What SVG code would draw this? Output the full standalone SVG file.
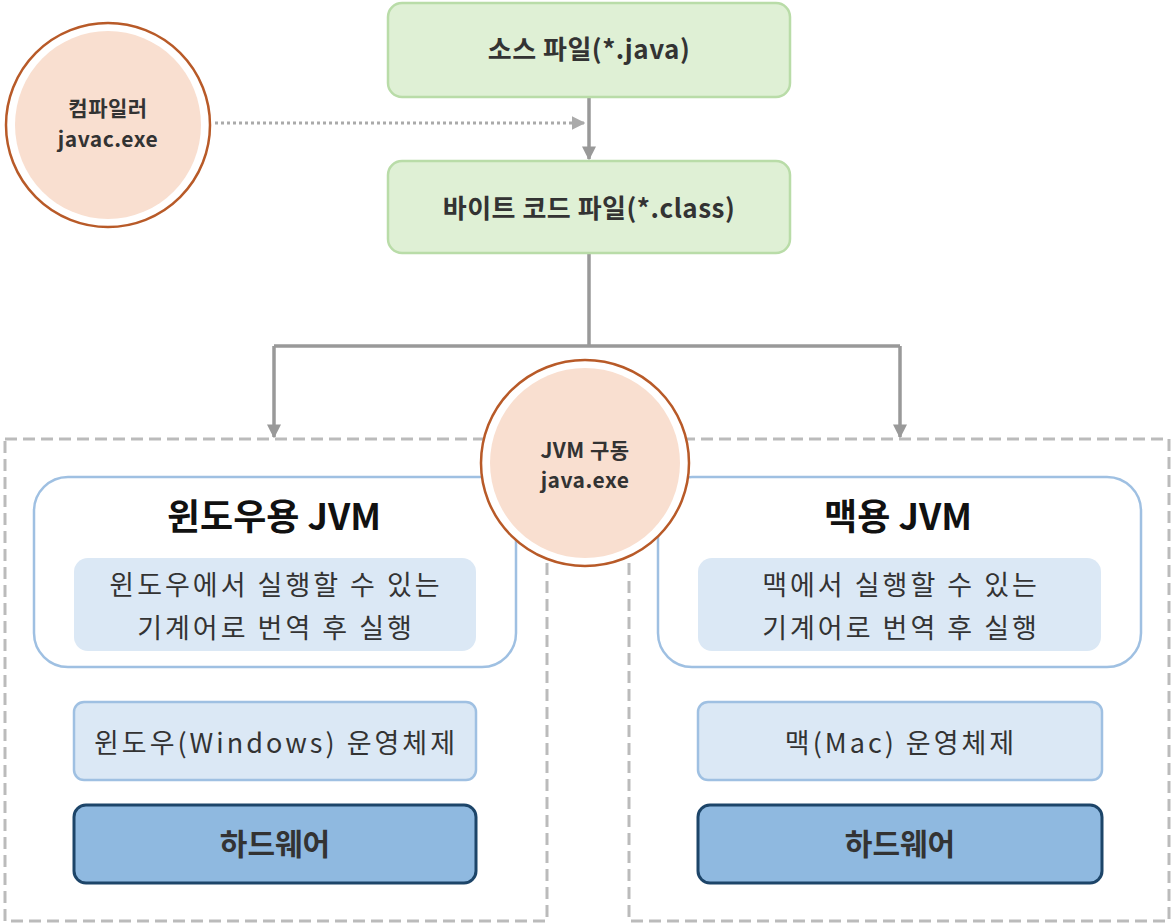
<svg xmlns="http://www.w3.org/2000/svg" width="1172" height="924" viewBox="0 0 1172 924">
<style>
text{font-family:"Noto Sans CJK KR","Noto Sans",sans-serif;text-anchor:middle;dominant-baseline:central;fill:#333}
.b{font-weight:bold}
.file{fill:#dff0d5;stroke:#b9dca8;stroke-width:2.5}
.circ{fill:#fff;stroke:#b85a28;stroke-width:2.5}
.circin{fill:#f9dfd0}
.cont{fill:none;stroke:#bbb;stroke-width:3;stroke-dasharray:12 6}
.jvm{fill:#fff;stroke:#9fc0e2;stroke-width:2.5}
.inner{fill:#dbe8f5}
.os{fill:#dbe8f5;stroke:#9fc0e2;stroke-width:2.5}
.hw{fill:#8fb9e0;stroke:#1d4569;stroke-width:3}
.line{fill:none;stroke:#999;stroke-width:3.5}
.dot{fill:none;stroke:#aaa;stroke-width:3;stroke-dasharray:3 3}
.t1{font-size:26px;letter-spacing:0.5px}
.t2{font-size:21px;letter-spacing:0.5px}
.t3{font-size:36px;fill:#111}
.t4{font-size:27px;letter-spacing:3px}
.t5{font-size:30px}
</style>
<defs>
<marker id="ah" viewBox="0 0 10 10" refX="9" refY="5" markerWidth="4" markerHeight="4" orient="auto" markerUnits="strokeWidth">
<path d="M0,0L10,5L0,10z" fill="#999"/>
</marker>
<marker id="ahd" viewBox="0 0 10 10" refX="9" refY="5" markerWidth="4.5" markerHeight="4.5" orient="auto" markerUnits="strokeWidth">
<path d="M0,0L10,5L0,10z" fill="#aaa"/>
</marker>
</defs>

<g id="containers">
<rect id="win-container" class="cont" x="5" y="439" width="542" height="482"/>
<rect id="mac-container" class="cont" x="629" y="439" width="540" height="482"/>
</g>

<g id="connectors">
<path class="line" d="M589,97V159" marker-end="url(#ah)"/>
<path class="dot" d="M215,123H584" marker-end="url(#ahd)"/>
<path class="line" d="M589,253V346M274,346H900"/>
<path class="line" d="M274,346V437" marker-end="url(#ah)"/>
<path class="line" d="M900,346V437" marker-end="url(#ah)"/>
</g>

<g id="source">
<rect class="file" x="388" y="3" width="402" height="94" rx="14"/>
<text class="t1 b" x="589" y="47">소스 파일(*.java)</text>
</g>

<g id="bytecode">
<rect class="file" x="388" y="161" width="402" height="92" rx="14"/>
<text class="t1 b" x="589" y="206">바이트 코드 파일(*.class)</text>
</g>

<g id="compiler">
<ellipse class="circ" cx="108" cy="125" rx="102" ry="102"/>
<ellipse class="circin" cx="108" cy="125" rx="93" ry="94"/>
<text class="t2 b" x="108" y="107">컴파일러</text>
<text class="t2 b" x="108" y="138">javac.exe</text>
</g>

<g id="win-jvm">
<rect class="jvm" x="34" y="477" width="482" height="190" rx="34"/>
<text class="t3 b" x="274" y="514">윈도우용 JVM</text>
<rect class="inner" x="74" y="558" width="402" height="93" rx="14"/>
<text class="t4" x="276" y="583">윈도우에서 실행할 수 있는</text>
<text class="t4" x="276" y="626">기계어로 번역 후 실행</text>
</g>

<g id="win-os">
<rect class="os" x="74" y="702" width="402" height="78" rx="10"/>
<text class="t4" x="276" y="741">윈도우(Windows) 운영체제</text>
</g>

<g id="win-hw">
<rect class="hw" x="74" y="805" width="402" height="78" rx="12"/>
<text class="t5 b" x="275" y="842">하드웨어</text>
</g>

<g id="mac-jvm">
<rect class="jvm" x="658" y="477" width="483" height="190" rx="34"/>
<text class="t3 b" x="898" y="514">맥용 JVM</text>
<rect class="inner" x="698" y="558" width="403" height="93" rx="14"/>
<text class="t4" x="901" y="583">맥에서 실행할 수 있는</text>
<text class="t4" x="901" y="626">기계어로 번역 후 실행</text>
</g>

<g id="mac-os">
<rect class="os" x="698" y="702" width="404" height="78" rx="10"/>
<text class="t4" x="901" y="741">맥(Mac) 운영체제</text>
</g>

<g id="mac-hw">
<rect class="hw" x="698" y="805" width="404" height="78" rx="12"/>
<text class="t5 b" x="900" y="842">하드웨어</text>
</g>

<g id="jvm-run">
<ellipse class="circ" cx="585" cy="463" rx="104" ry="103"/>
<ellipse class="circin" cx="585" cy="463" rx="95" ry="95"/>
<text class="t2 b" x="585" y="449">JVM 구동</text>
<text class="t2 b" x="585" y="479">java.exe</text>
</g>
</svg>
